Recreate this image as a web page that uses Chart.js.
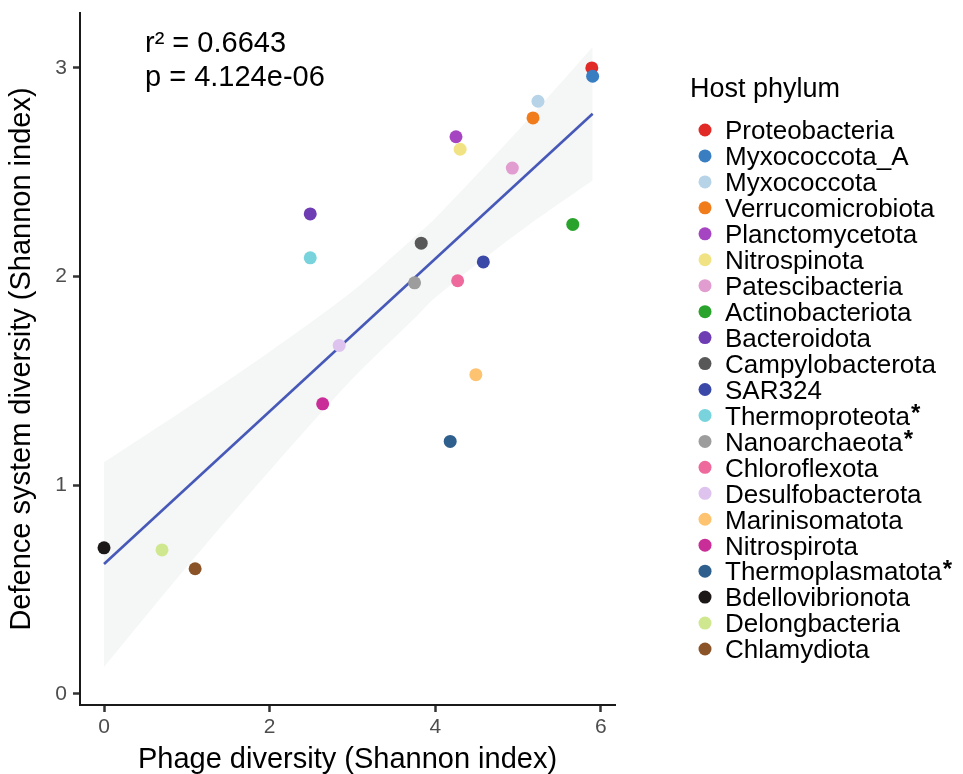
<!DOCTYPE html>
<html>
<head>
<meta charset="utf-8">
<title>Phage vs defence system diversity</title>
<script src="https://cdn.jsdelivr.net/npm/chart.js@4.4.1/dist/chart.umd.min.js"></script>
<style>
    body { margin: 0; background: #ffffff; }
    #wrap { width: 963px; height: 774px; }
</style>
</head>
<body>
<div id="wrap"><canvas id="diversityChart" width="963" height="774"></canvas></div>
<script>
// ===== DATA =====
var phyla = [
    'Proteobacteria', 'Myxococcota_A', 'Myxococcota', 'Verrucomicrobiota',
    'Planctomycetota', 'Nitrospinota', 'Patescibacteria', 'Actinobacteriota',
    'Bacteroidota', 'Campylobacterota', 'SAR324', 'Thermoproteota*',
    'Nanoarchaeota*', 'Chloroflexota', 'Desulfobacterota', 'Marinisomatota',
    'Nitrospirota', 'Thermoplasmatota*', 'Bdellovibrionota', 'Delongbacteria',
    'Chlamydiota'
];
var phageDiversity = [
    5.89, 5.90, 5.24, 5.18,
    4.25, 4.30, 4.93, 5.66,
    2.49, 3.83, 4.58, 2.49,
    3.75, 4.27, 2.84, 4.49,
    2.64, 4.18, 0.00, 0.70,
    1.10
];
var defenceDiversity = [
    3.00, 2.96, 2.84, 2.76,
    2.67, 2.61, 2.52, 2.25,
    2.30, 2.16, 2.07, 2.09,
    1.97, 1.98, 1.67, 1.53,
    1.39, 1.21, 0.70, 0.69,
    0.60
];
var phylumColors = [
    '#E12A26', '#3A7EC2', '#B6D3E7', '#F07C1C',
    '#A645C2', '#F1E384', '#E29DD0', '#2AA32C',
    '#6E3DB3', '#585858', '#3A48A8', '#78D3DD',
    '#9D9D9D', '#EF6A9C', '#DDC3EE', '#FDC370',
    '#C92D98', '#2F5F8C', '#1C1818', '#CFE88F',
    '#8B5428'
];

// fitted line and 95% band
var fitX = [0, 5.9];
var fitY = [0.623, 2.78];
var bandX = [0, 1, 2, 3, 3.75, 4, 5, 5.9];
var bandUpper = [1.11, 1.37, 1.64, 1.93, 2.19, 2.28, 2.70, 3.10];
var bandLower = [0.13, 0.61, 1.07, 1.51, 1.80, 1.90, 2.21, 2.46];

var xTicks = [0, 2, 4, 6];
var yTicks = [0, 1, 2, 3];

var statsLines = ['r\u00B2 = 0.6643', 'p = 4.124e-06'];
var legendTitle = 'Host phylum';

// ===== HELPERS =====
function toPoints(xs, ys) {
    var pts = [];
    for (var i = 0; i < xs.length; i++) {
        pts.push({ x: xs[i], y: ys[i] });
    }
    return pts;
}

var FONT = '"Liberation Sans", Arial, Helvetica, sans-serif';

// ===== STATS TEXT + LEGEND PLUGIN =====
var extrasPlugin = {
    id: 'extras',
    afterDraw: function(chart) {
        var ctx = chart.ctx;
        ctx.save();
        ctx.fillStyle = '#000000';
        ctx.textAlign = 'left';
        ctx.textBaseline = 'alphabetic';

        // r2 / p-value
        ctx.font = '29px ' + FONT;
        ctx.fillText(statsLines[0], 145, 52);
        ctx.fillText(statsLines[1], 145, 86);

        // legend
        ctx.font = '27px ' + FONT;
        ctx.fillText(legendTitle, 690, 97);

        for (var i = 0; i < phyla.length; i++) {
            var cy = 130 + i * 25.95;
            ctx.beginPath();
            ctx.arc(705, cy, 6.5, 0, Math.PI * 2);
            ctx.fillStyle = phylumColors[i];
            ctx.fill();

            var name = phyla[i];
            var star = name.charAt(name.length - 1) === '*';
            if (star) name = name.slice(0, -1);
            ctx.fillStyle = '#000000';
            ctx.font = '26px ' + FONT;
            ctx.fillText(name, 725, cy + 9.3);
            if (star) {
                var w = ctx.measureText(name).width;
                ctx.font = 'bold 24px ' + FONT;
                ctx.fillText('*', 725 + w + 1, cy + 6);
            }
        }
        ctx.restore();
    }
};

// ===== CHART =====
var ctx = document.getElementById('diversityChart').getContext('2d');
window.myChart = new Chart(ctx, {
    type: 'scatter',
    data: {
        datasets: [
            {
                type: 'line',
                label: 'band upper',
                data: toPoints(bandX, bandUpper),
                borderWidth: 0,
                borderColor: 'rgba(0,0,0,0)',
                pointRadius: 0,
                tension: 0.3,
                fill: false,
                order: 3
            },
            {
                type: 'line',
                label: 'band lower',
                data: toPoints(bandX, bandLower),
                borderWidth: 0,
                borderColor: 'rgba(0,0,0,0)',
                backgroundColor: '#F5F6F6',
                pointRadius: 0,
                tension: 0.3,
                fill: '-1',
                order: 2
            },
            {
                type: 'line',
                label: 'fit',
                data: toPoints(fitX, fitY),
                borderColor: '#4759B8',
                borderWidth: 2.6,
                pointRadius: 0,
                fill: false,
                order: 1
            },
            {
                label: 'Host phylum',
                data: toPoints(phageDiversity, defenceDiversity),
                backgroundColor: phylumColors,
                borderWidth: 0,
                pointRadius: 6.5,
                pointHoverRadius: 6.5,
                order: 0
            }
        ]
    },
    options: {
        responsive: false,
        animation: false,
        layout: {
            padding: { left: 0, right: 348, top: 13, bottom: 0 }
        },
        plugins: {
            legend: { display: false },
            tooltip: { enabled: false }
        },
        scales: {
            x: {
                type: 'linear',
                min: -0.29,
                max: 6.17,
                afterBuildTicks: function(scale) {
                    scale.ticks = xTicks.map(function(v) { return { value: v }; });
                },
                afterFit: function(scale) {
                    scale.height = 69;
                    scale.paddingLeft = 0;
                    scale.paddingRight = 0;
                },
                ticks: {
                    color: '#4D4D4D',
                    font: { family: FONT, size: 21 },
                    padding: 3,
                    maxRotation: 0
                },
                grid: {
                    drawOnChartArea: false,
                    drawTicks: true,
                    tickLength: 7,
                    tickWidth: 2.5,
                    tickColor: '#333333'
                },
                border: { display: true, color: '#1A1A1A', width: 2 },
                title: {
                    display: true,
                    text: 'Phage diversity (Shannon index)',
                    color: '#000000',
                    font: { family: FONT, size: 29, lineHeight: 1 },
                    padding: 0
                }
            },
            y: {
                type: 'linear',
                min: -0.053,
                max: 3.263,
                afterBuildTicks: function(scale) {
                    scale.ticks = yTicks.map(function(v) { return { value: v }; });
                },
                afterFit: function(scale) {
                    scale.width = 80;
                    scale.paddingTop = 0;
                    scale.paddingBottom = 0;
                },
                ticks: {
                    color: '#4D4D4D',
                    font: { family: FONT, size: 21 },
                    padding: 6
                },
                grid: {
                    drawOnChartArea: false,
                    drawTicks: true,
                    tickLength: 7,
                    tickWidth: 2.5,
                    tickColor: '#333333'
                },
                border: { display: true, color: '#1A1A1A', width: 2 },
                title: {
                    display: true,
                    text: 'Defence system diversity (Shannon index)',
                    color: '#000000',
                    font: { family: FONT, size: 29, lineHeight: 1 },
                    padding: { top: 7, bottom: 0 }
                }
            }
        }
    },
    plugins: [extrasPlugin]
});
</script>
</body>
</html>
